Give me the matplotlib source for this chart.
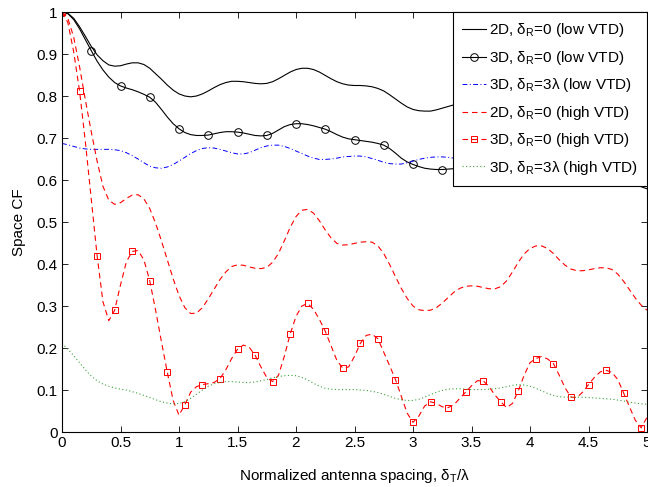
import numpy as np
import matplotlib
matplotlib.use("Agg")
import matplotlib.pyplot as plt

plt.rcParams['font.family'] = ['Liberation Sans', 'DejaVu Sans']
plt.rcParams['mathtext.fontset'] = 'custom'
plt.rcParams['mathtext.rm'] = 'Liberation Sans'
plt.rcParams['mathtext.it'] = 'Liberation Sans'

# normalized antenna spacing, step 0.05
spacing = np.arange(101) * 0.05

# 2D, dR=0 (low VTD)
cf_2d_low = [
    1.0, 0.997, 0.985, 0.965, 0.942, 0.918, 0.898, 0.884, 0.874, 0.871,
    0.872, 0.876, 0.879, 0.879, 0.875, 0.866, 0.853, 0.840, 0.826, 0.814,
    0.805, 0.800, 0.798, 0.800, 0.805, 0.812, 0.820, 0.827, 0.832, 0.835,
    0.835, 0.834, 0.832, 0.830, 0.829, 0.830, 0.834, 0.841, 0.849, 0.857,
    0.863, 0.866, 0.866, 0.863, 0.857, 0.849, 0.841, 0.834, 0.829, 0.826,
    0.825, 0.825, 0.824, 0.822, 0.818, 0.812, 0.803, 0.793, 0.783, 0.774,
    0.768, 0.765, 0.764, 0.764, 0.767, 0.771, 0.775, 0.779, 0.782, 0.784,
    0.785, 0.785, 0.783, 0.780, 0.776, 0.771, 0.766, 0.762, 0.759, 0.758,
    0.759, 0.762, 0.765, 0.768, 0.769, 0.768, 0.765, 0.760, 0.754, 0.748,
    0.743, 0.740, 0.738, 0.738, 0.739, 0.740, 0.740, 0.738, 0.734, 0.729,
    0.724]

# 3D, dR=0 (low VTD)
cf_3d_low = [
    1.0, 0.996, 0.982, 0.960, 0.934, 0.908, 0.883, 0.862, 0.845, 0.832,
    0.824, 0.819, 0.815, 0.810, 0.804, 0.797, 0.785, 0.768, 0.750, 0.734,
    0.722, 0.713, 0.708, 0.706, 0.706, 0.707, 0.710, 0.713, 0.715, 0.715,
    0.714, 0.712, 0.709, 0.706, 0.705, 0.706, 0.711, 0.719, 0.727, 0.732,
    0.734, 0.734, 0.732, 0.729, 0.725, 0.721, 0.715, 0.708, 0.702, 0.698,
    0.696, 0.694, 0.692, 0.690, 0.687, 0.683, 0.675, 0.664, 0.652, 0.643,
    0.637, 0.632, 0.628, 0.626, 0.625, 0.625, 0.626, 0.627, 0.628, 0.630,
    0.632, 0.634, 0.636, 0.637, 0.637, 0.636, 0.634, 0.632, 0.630, 0.629,
    0.628, 0.628, 0.628, 0.628, 0.627, 0.626, 0.624, 0.622, 0.620, 0.618,
    0.617, 0.616, 0.615, 0.614, 0.612, 0.609, 0.603, 0.597, 0.590, 0.584,
    0.579]

# 3D, dR=3 lambda (low VTD)
cf_3d3_low = [
    0.687, 0.684, 0.680, 0.676, 0.674, 0.673, 0.673, 0.673, 0.673, 0.672,
    0.670, 0.665, 0.658, 0.650, 0.641, 0.633, 0.629, 0.628, 0.631, 0.637,
    0.645, 0.654, 0.663, 0.670, 0.675, 0.677, 0.676, 0.673, 0.669, 0.665,
    0.662, 0.662, 0.665, 0.671, 0.677, 0.681, 0.683, 0.683, 0.680, 0.675,
    0.669, 0.663, 0.657, 0.652, 0.649, 0.649, 0.650, 0.652, 0.655, 0.656,
    0.657, 0.657, 0.655, 0.651, 0.647, 0.642, 0.639, 0.638, 0.638, 0.641,
    0.645, 0.649, 0.652, 0.654, 0.655, 0.655, 0.654, 0.652, 0.650, 0.648,
    0.647, 0.647, 0.648, 0.650, 0.652, 0.653, 0.653, 0.651, 0.648, 0.645,
    0.643, 0.642, 0.643, 0.645, 0.647, 0.648, 0.648, 0.646, 0.643, 0.641,
    0.640, 0.640, 0.641, 0.643, 0.644, 0.644, 0.643, 0.641, 0.639, 0.638,
    0.638]

# 2D, dR=0 (high VTD)
cf_2d_high = [
    1.0, 0.985, 0.940, 0.870, 0.790, 0.715, 0.645, 0.585, 0.552, 0.542,
    0.546, 0.556, 0.564, 0.565, 0.555, 0.532, 0.497, 0.455, 0.410, 0.365,
    0.325, 0.296, 0.282, 0.283, 0.296, 0.317, 0.340, 0.363, 0.381, 0.394,
    0.398, 0.397, 0.393, 0.390, 0.389, 0.392, 0.404, 0.425, 0.455, 0.487,
    0.513, 0.528, 0.530, 0.521, 0.503, 0.481, 0.462, 0.449, 0.445, 0.446,
    0.449, 0.452, 0.453, 0.452, 0.443, 0.425, 0.399, 0.370, 0.342, 0.318,
    0.300, 0.291, 0.289, 0.290, 0.296, 0.307, 0.320, 0.333, 0.342, 0.347,
    0.348, 0.347, 0.344, 0.341, 0.341, 0.346, 0.360, 0.381, 0.404, 0.424,
    0.437, 0.443, 0.443, 0.437, 0.425, 0.410, 0.397, 0.388, 0.384, 0.384,
    0.386, 0.389, 0.391, 0.391, 0.387, 0.376, 0.359, 0.339, 0.319, 0.302,
    0.290]

# 3D, dR=0 (high VTD)
cf_3d_high = [
    1.0, 0.975, 0.905, 0.812, 0.690, 0.555, 0.420, 0.310, 0.265, 0.290,
    0.350, 0.405, 0.430, 0.432, 0.410, 0.360, 0.290, 0.215, 0.142, 0.075,
    0.040, 0.065, 0.095, 0.108, 0.113, 0.115, 0.118, 0.127, 0.148, 0.175,
    0.197, 0.207, 0.202, 0.183, 0.155, 0.130, 0.120, 0.135, 0.180, 0.233,
    0.275, 0.300, 0.306, 0.292, 0.268, 0.240, 0.205, 0.170, 0.152, 0.155,
    0.180, 0.211, 0.230, 0.233, 0.222, 0.190, 0.158, 0.125, 0.085, 0.045,
    0.023, 0.038, 0.062, 0.072, 0.068, 0.060, 0.058, 0.065, 0.080, 0.095,
    0.110, 0.122, 0.122, 0.108, 0.088, 0.072, 0.058, 0.068, 0.098, 0.135,
    0.165, 0.175, 0.180, 0.174, 0.163, 0.135, 0.105, 0.083, 0.082, 0.095,
    0.113, 0.130, 0.143, 0.147, 0.142, 0.125, 0.093, 0.060, 0.028, 0.010,
    0.035]

# 3D, dR=3 lambda (high VTD)
cf_3d3_high = [
    0.211, 0.197, 0.182, 0.165, 0.148, 0.133, 0.122, 0.114, 0.109, 0.105,
    0.102, 0.100, 0.096, 0.092, 0.087, 0.082, 0.077, 0.072, 0.069, 0.067,
    0.068, 0.072, 0.080, 0.090, 0.100, 0.109, 0.115, 0.118, 0.120, 0.120,
    0.119, 0.118, 0.118, 0.119, 0.122, 0.125, 0.129, 0.132, 0.134, 0.135,
    0.134, 0.130, 0.124, 0.116, 0.109, 0.104, 0.102, 0.101, 0.101, 0.101,
    0.101, 0.100, 0.099, 0.097, 0.094, 0.090, 0.085, 0.080, 0.077, 0.075,
    0.075, 0.078, 0.083, 0.089, 0.095, 0.099, 0.102, 0.103, 0.103, 0.102,
    0.101, 0.101, 0.101, 0.102, 0.103, 0.105, 0.108, 0.111, 0.113, 0.112,
    0.109, 0.104, 0.098, 0.092, 0.087, 0.084, 0.083, 0.083, 0.083, 0.083,
    0.082, 0.081, 0.080, 0.079, 0.078, 0.076, 0.074, 0.071, 0.069, 0.067,
    0.066]

labels = [
    '2D, δ$_{\\mathrm{R}}$=0 (low VTD)',
    '3D, δ$_{\\mathrm{R}}$=0 (low VTD)',
    '3D, δ$_{\\mathrm{R}}$=3λ (low VTD)',
    '2D, δ$_{\\mathrm{R}}$=0 (high VTD)',
    '3D, δ$_{\\mathrm{R}}$=0 (high VTD)',
    '3D, δ$_{\\mathrm{R}}$=3λ (high VTD)',
]
xtick_vals = [0, 0.5, 1, 1.5, 2, 2.5, 3, 3.5, 4, 4.5, 5]
xtick_labels = ['0', '0.5', '1', '1.5', '2', '2.5', '3', '3.5', '4', '4.5', '5']
ytick_vals = [0, 0.1, 0.2, 0.3, 0.4, 0.5, 0.6, 0.7, 0.8, 0.9, 1]
ytick_labels = ['0', '0.1', '0.2', '0.3', '0.4', '0.5', '0.6', '0.7', '0.8', '0.9', '1']

fig = plt.figure(figsize=(6.48, 4.87), dpi=100)
ax = fig.add_axes([62/648, 1 - 432/487, 585/648, 420/487])

ax.plot(spacing, cf_2d_low, color='k', lw=0.8, label=labels[0])
ax.plot(spacing, cf_3d_low, color='k', lw=0.8, marker='o', ms=5.5,
        mfc='none', mew=0.7, markevery=slice(0, 100, 5), label=labels[1])
ax.plot(spacing, cf_3d3_low, color='#0000ff', lw=0.7, dashes=(5, 2.5, 1, 2.5),
        label=labels[2])
ax.plot(spacing, cf_2d_high, color='#ff0000', lw=0.8, dashes=(5, 3.5),
        label=labels[3])
ax.plot(spacing, cf_3d_high, color='#ff0000', lw=0.8, dashes=(5, 3.5),
        marker='s', ms=4.5, mfc='none', mew=0.7, markevery=3, label=labels[4])
ax.plot(spacing, cf_3d3_high, color='#3aa33a', lw=0.8, dashes=(1, 2.2),
        label=labels[5])

ax.set_xlim(0, 5)
ax.set_ylim(0, 1)
ax.set_xticks(xtick_vals)
ax.set_xticklabels(xtick_labels)
ax.set_yticks(ytick_vals)
ax.set_yticklabels(ytick_labels)
ax.tick_params(direction='in', top=True, right=True, length=4, width=0.6,
               labelsize=11, pad=3)
for s in ax.spines.values():
    s.set_linewidth(0.8)

ax.set_xlabel('Normalized antenna spacing, δ$_{\\mathrm{T}}$/λ', fontsize=11,
              labelpad=12)
ax.set_ylabel('Space CF', fontsize=11, labelpad=8)

leg = ax.legend(loc='upper right', bbox_to_anchor=(1, 1), borderaxespad=0,
                fontsize=11, handlelength=1.6, handletextpad=0.15,
                labelspacing=0.62, borderpad=0.62, fancybox=False,
                framealpha=1, edgecolor='k', numpoints=1)
leg.get_frame().set_linewidth(0.8)

fig.savefig('out.png', dpi=100)
